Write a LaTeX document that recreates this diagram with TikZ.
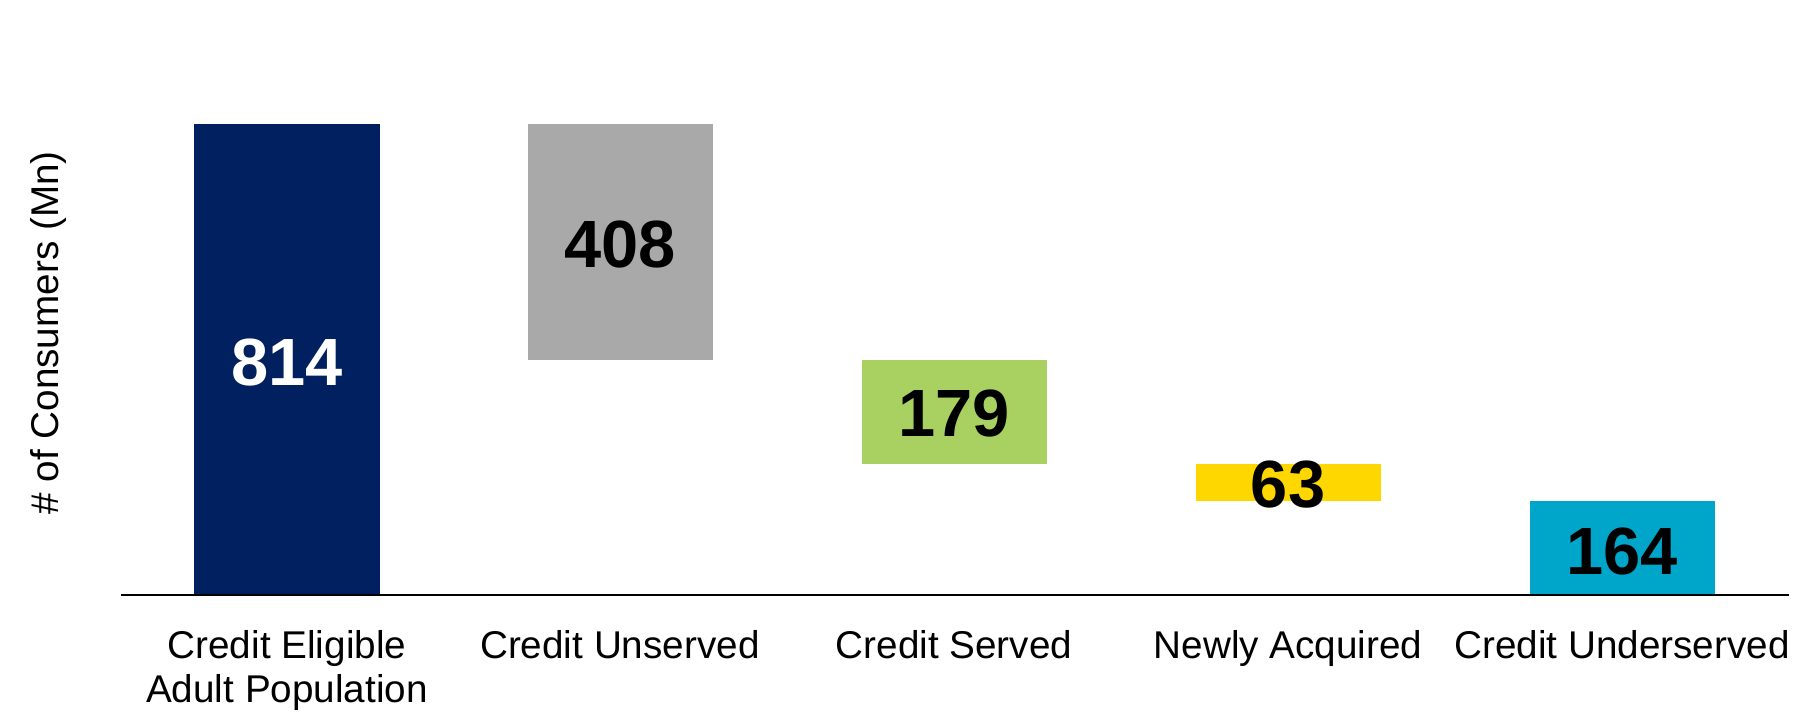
\documentclass[tikz,border=0pt]{standalone}
\usepackage{fontspec}
\setmainfont{Liberation Sans}
\usetikzlibrary{calc}
\definecolor{navybar}{HTML}{002060}
\definecolor{graybar}{HTML}{A9A9A9}
\definecolor{greenbar}{HTML}{A9D162}
\definecolor{yellowbar}{HTML}{FFD700}
\definecolor{cyanbar}{HTML}{00A6CA}
\begin{document}
\begin{tikzpicture}[x=0.01148cm,y=-0.01148cm,
    value/.style={font=\fontsize{19}{22}\selectfont\bfseries},
    cat/.style={font=\fontsize{11}{12.7}\selectfont,align=center,anchor=north}]
        \useasboundingbox (0,0) rectangle (1568,630);

        % bars
        \fill[navybar]   (169,108) rectangle (331,518);
        \fill[graybar]   (460,108) rectangle (621,314);
        \fill[greenbar]  (751,314) rectangle (912,404);
        \fill[yellowbar] (1042,404) rectangle (1203,436);
        \fill[cyanbar]   (1333,436) rectangle (1494,518);

        % axis
        \coordinate (axl) at (105,518);
        \coordinate (axr) at (1558,518);
        \draw[line width=0.6pt] (axl) -- (axr);

        % values
        \node[value,white] (v1) at (250,316) {814};
        \node[value] (v2) at (540,213) {408};
        \node[value] (v3) at (831,360) {179};
        \node[value] (v4) at (1122,422) {63};
        \node[value] (v5) at (1413,480) {164};

        % categories
        \node[cat] (c1) at (250,538) {Credit Eligible\\Adult Population};
        \node[cat] (c2) at (540,538) {Credit Unserved};
        \node[cat] (c3) at (831,538) {Credit Served};
        \node[cat] (c4) at (1122,538) {Newly Acquired};
        \node[cat] (c5) at (1413,538) {Credit Underserved};

        \node[rotate=90,font=\fontsize{11}{12.7}\selectfont] (ylab) at (42,290) {\# of Consumers (Mn)};
      \end{tikzpicture}
\end{document}
